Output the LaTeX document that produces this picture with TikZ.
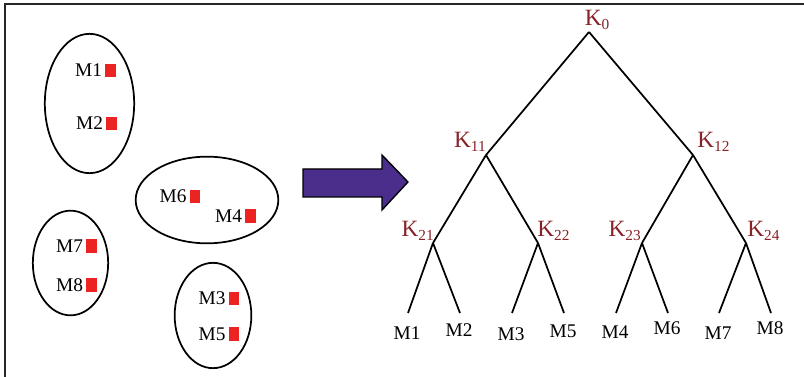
\documentclass[tikz,border=0pt]{standalone}
\usepackage{fontspec}
\setmainfont{Liberation Serif}
\usetikzlibrary{positioning,shapes.geometric}
\definecolor{keyred}{RGB}{135,35,40}
\definecolor{boxred}{RGB}{235,35,35}
\definecolor{arrowpurple}{RGB}{75,45,140}
\newcommand{\kname}[1]{K\raisebox{-2.6pt}{\fontsize{11.5}{12}\selectfont #1}}

\begin{document}
\begin{tikzpicture}[
    x=0.75pt, y=-0.75pt,
    grp/.style={ellipse, draw, line width=1.3pt, inner sep=0pt},
    mlabel/.style={inner sep=0pt, font=\fontsize{14.5}{16}\selectfont},
    redsq/.style={rectangle, fill=boxred, inner sep=0pt, minimum width=8pt, minimum height=9.8pt},
    klabel/.style={inner sep=0pt, text=keyred, font=\fontsize{17.5}{20}\selectfont},
    branch/.style={line width=1.3pt}
]
    \useasboundingbox (0,0) rectangle (804,377);
    \draw[line width=1.5pt, black!85] (804,4) -- (5,4) -- (5,377);

    % clusters
    \node[grp, minimum width=67pt, minimum height=104.5pt] (grpA) at (89.5,103.5) {};
    \node[grp, minimum width=107pt, minimum height=65pt] (grpB) at (207,200) {};
    \node[grp, minimum width=56.5pt, minimum height=78.5pt] (grpC) at (70.5,263) {};
    \node[grp, minimum width=57.5pt, minimum height=79pt] (grpD) at (213,315.5) {};

    \foreach \nm/\x/\y in {M1/110.5/70.5, M2/111.5/123.5, M6/195/196.5, M4/250.5/216,
                           M7/91.5/246, M8/91.5/285, M3/234/298.5, M5/234/334} {
        \node[redsq] (sq\nm) at (\x,\y) {};
        \node[mlabel, left=2pt of sq\nm] (item\nm) {\nm};
    }

    % arrow
    \draw[line width=1pt, fill=arrowpurple] (303,169) -- (382,169) -- (382,155) -- (408,182)
        -- (382,210) -- (382,197) -- (303,197) -- cycle;

    % key tree
    \coordinate (k0) at (589,32);
    \coordinate (k11) at (486,155);
    \coordinate (k12) at (693,155);
    \coordinate (k21) at (433,243);
    \coordinate (k22) at (538,243);
    \coordinate (k23) at (642,243);
    \coordinate (k24) at (746,243);

    \node[klabel, anchor=base west] (labk0) at (584.5,26) {\kname{0}};
    \node[klabel, anchor=base east] (labk11) at (486,148) {\kname{11}};
    \node[klabel, anchor=base west] (labk12) at (697,148) {\kname{12}};
    \node[klabel, anchor=base east] (labk21) at (434,237) {\kname{21}};
    \node[klabel, anchor=base west] (labk22) at (537,237) {\kname{22}};
    \node[klabel, anchor=base east] (labk23) at (641,237) {\kname{23}};
    \node[klabel, anchor=base west] (labk24) at (747,237) {\kname{24}};

    \foreach \a/\b in {k0/k11, k0/k12, k11/k21, k11/k22, k12/k23, k12/k24}
        \draw[branch] (\a) -- (\b);

    \foreach \nm/\x/\ly/\up in {M1/408/333/k21, M2/460/330/k21, M3/512/334/k22, M5/564/331/k22,
                                M4/616/332/k23, M6/668/328/k23, M7/719/333/k24, M8/771/328/k24} {
        \coordinate (leaf\nm) at (\x,313);
        \node[mlabel] (lab\nm) at (\x-1,\ly) {\nm};
        \draw[branch] (\up) -- (leaf\nm);
    }
\end{tikzpicture}
\end{document}
